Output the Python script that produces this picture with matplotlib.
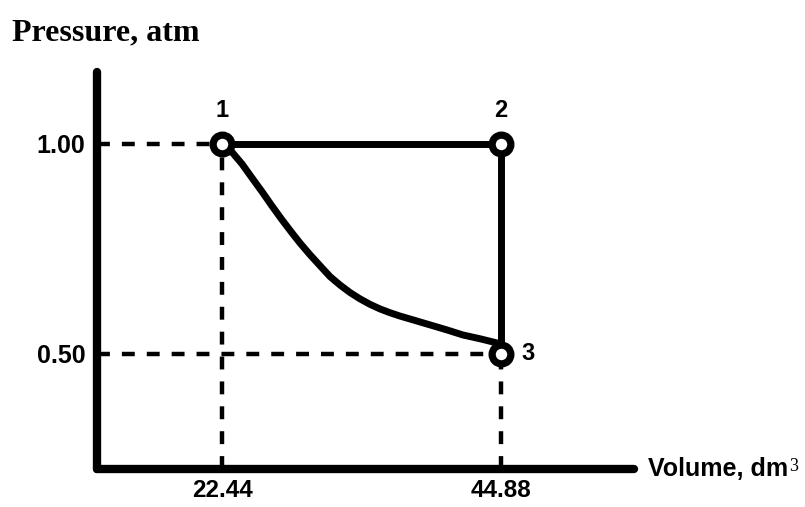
import matplotlib.pyplot as plt

# Points of the cycle (volume in dm3, pressure in atm)
volume = [22.44, 44.88, 44.88]
pressure = [1.00, 1.00, 0.50]
point_labels = ['1', '2', '3']

# Curved path 1 -> 3
curve_volume = [22.44, 23.08, 24.05, 24.85, 25.66, 26.46, 27.27, 28.07, 28.71,
                29.52, 30.32, 31.13, 31.93, 32.74, 33.54, 34.34, 35.15, 35.95,
                36.76, 37.80, 39.17, 40.54, 41.82, 43.19, 44.56, 44.88]
curve_pressure = [1.000, 0.986, 0.952, 0.919, 0.886, 0.852, 0.819, 0.788, 0.764,
                  0.736, 0.710, 0.684, 0.664, 0.646, 0.631, 0.618, 0.607, 0.598,
                  0.590, 0.581, 0.569, 0.557, 0.545, 0.536, 0.526, 0.500]

x_ticks = [22.44, 44.88]
x_tick_labels = ['22.44', '44.88']
y_ticks = [1.00, 0.50]
y_tick_labels = ['1.00', '0.50']

sans = 'Liberation Sans'
serif = 'Liberation Serif'

fig = plt.figure(figsize=(8.05, 5.07), dpi=100)
ax = fig.add_axes([0.1205, 0.075, 0.7876 - 0.1205, 0.858 - 0.075])
xmin, xmax = 12.38, 55.59
ymin, ymax = 0.226, 1.171
ax.set_xlim(xmin, xmax)
ax.set_ylim(ymin, ymax)

# axes: only left and bottom, thick with rounded ends
for side in ['top', 'right']:
    ax.spines[side].set_visible(False)
for side in ['left', 'bottom']:
    ax.spines[side].set_linewidth(6)
    ax.spines[side].set_capstyle('round')

dash = dict(color='black', lw=3.2, linestyle=(0, (2.9, 2.7)), zorder=1, clip_on=False)
# guide lines from points 1 and 3 to the axes
ax.plot([xmin, volume[0]], [pressure[0], pressure[0]], **dash)
ax.plot([volume[0], volume[0]], [ymin, pressure[0]], **dash)
ax.plot([xmin, volume[2]], [pressure[2], pressure[2]], **dash)
ax.plot([volume[2], volume[2]], [ymin, pressure[2]], **dash)

# process lines
ax.plot(volume, pressure, color='black', lw=5, solid_capstyle='round', zorder=2)
ax.plot(curve_volume, curve_pressure, color='black', lw=5,
        solid_joinstyle='round', solid_capstyle='round', zorder=2)
ax.plot(volume, pressure, linestyle='none', marker='o', markersize=13.5,
        markerfacecolor='white', markeredgecolor='black', markeredgewidth=5.2, zorder=3)

# point numbers
for v, p, lab in zip(volume[:2], pressure[:2], point_labels[:2]):
    ax.annotate(lab, (v, p), xytext=(0, 24), textcoords='offset points',
                ha='center', va='center', fontsize=17, fontweight='bold', family=sans)
ax.annotate(point_labels[2], (volume[2], pressure[2]), xytext=(15, 0),
            textcoords='offset points', ha='left', va='center',
            fontsize=17, fontweight='bold', family=sans)

ax.set_xticks(x_ticks)
ax.set_xticklabels(x_tick_labels)
ax.set_yticks(y_ticks)
ax.set_yticklabels(y_tick_labels)
ax.tick_params(axis='x', length=0, pad=7)
ax.tick_params(axis='y', length=0, pad=8.5)
for lab in ax.get_yticklabels():
    lab.set_fontfamily(sans)
    lab.set_fontweight('bold')
    lab.set_fontsize(18)
for lab in ax.get_xticklabels():
    lab.set_fontfamily(sans)
    lab.set_fontweight('bold')
    lab.set_fontsize(17.5)

# axis titles
vol = ax.annotate('Volume, dm', (1, 0), xycoords='axes fraction', xytext=(10, 0),
                  textcoords='offset points', ha='left', va='center',
                  fontsize=18, fontweight='bold', family=sans)
ax.annotate('3', (1, 1), xycoords=vol, xytext=(0.5, -1), textcoords='offset points',
            ha='left', va='top', fontsize=13, family=serif)
fig.text(12 / 805, 1 - 40 / 507, 'Pressure, atm', ha='left', va='baseline',
         fontsize=23, fontweight='bold', family=serif)

fig.savefig('out.png', dpi=100)
